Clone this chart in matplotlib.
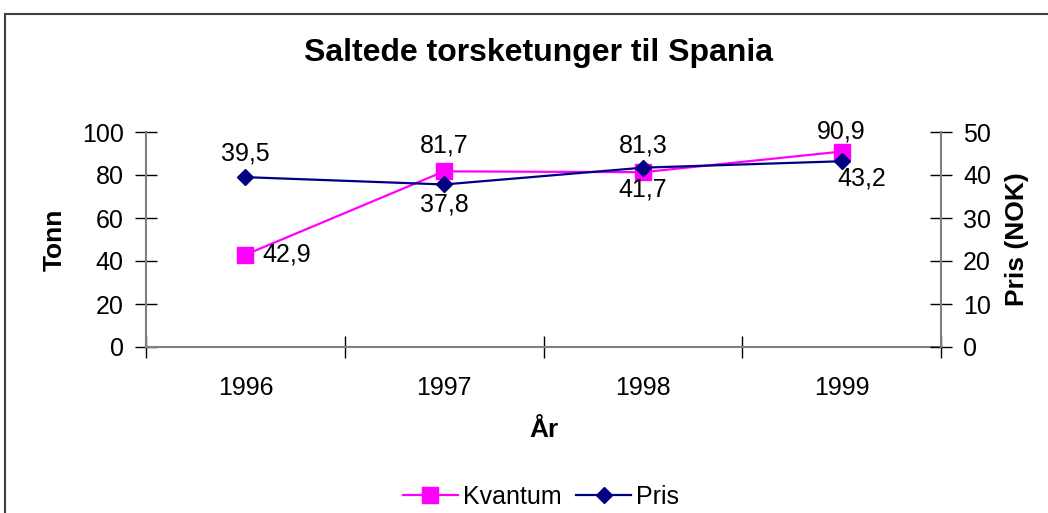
import matplotlib
matplotlib.use("Agg")
import matplotlib.pyplot as plt
from matplotlib.patches import Rectangle
import numpy as np

# data
years = ["1996", "1997", "1998", "1999"]
kvantum = [42.9, 81.7, 81.3, 90.9]   # Tonn, left axis
pris = [39.5, 37.8, 41.7, 43.2]      # NOK, right axis

PX = 0.72  # pixels -> points at 100 dpi

# label offsets in pixels (placement only)
kv_offsets = [(17, 0, "left"), (0, 26, "center"), (0, 27, "center"), (0, 20, "center")]
pr_offsets = [(0, 24, "center"), (0, -20, "center"), (0, -22, "center"), (20, -17, "center")]

plt.rcParams["font.family"] = ["Liberation Sans", "DejaVu Sans"]

fig = plt.figure(figsize=(10.48, 5.13), dpi=100)
W, H = 1048, 513
ax = fig.add_axes([146 / W, 1 - 347 / H, (941 - 146) / W, (347 - 132) / H])
ax2 = ax.twinx()

x = np.arange(len(years))
l1, = ax.plot(x, kvantum, color="#FF00FF", lw=1.6, marker="s", ms=11.5,
              label="Kvantum", zorder=3)
l2, = ax2.plot(x, pris, color="#000080", lw=1.6, marker="D", ms=8.5,
               label="Pris", zorder=3)

for xi, v, (dx, dy, ha) in zip(x, kvantum, kv_offsets):
    ax.annotate(f"{v:.1f}".replace(".", ","), (xi, v), xytext=(dx * PX, dy * PX),
                textcoords="offset points", ha=ha, va="center", fontsize=18)
for xi, v, (dx, dy, ha) in zip(x, pris, pr_offsets):
    ax2.annotate(f"{v:.1f}".replace(".", ","), (xi, v), xytext=(dx * PX, dy * PX),
                 textcoords="offset points", ha=ha, va="center", fontsize=18)

ax.set_xlim(-0.5, len(years) - 0.5)
ax.set_ylim(0, 100)
ax2.set_ylim(0, 50)
ax.set_yticks(np.arange(0, 101, 20))
ax2.set_yticks(np.arange(0, 51, 10))
ax.set_xticks(np.arange(-0.5, len(years), 1.0))
ax.set_xticklabels([])
ax.set_xticks(x, minor=True)
ax.set_xticklabels(years, minor=True)
ax.tick_params(axis="x", which="minor", length=0, pad=21, labelsize=18)
ax.tick_params(axis="x", which="major", direction="inout", length=16, width=1)
ax.tick_params(axis="y", direction="inout", length=16, width=1, labelsize=18, pad=8)
ax2.tick_params(axis="y", direction="inout", length=16, width=1, labelsize=18, pad=8)

for a in (ax, ax2):
    a.spines["top"].set_visible(False)
    for s in ("left", "right", "bottom"):
        a.spines[s].set_color("#808080")
        a.spines[s].set_linewidth(1.5)
ax.spines["right"].set_visible(False)
ax2.spines["left"].set_visible(False)
ax2.spines["bottom"].set_visible(False)

ax.set_ylabel("Tonn", fontsize=19, fontweight="bold", va="center", ha="center")
ax.yaxis.set_label_coords(-0.1145, 0.5)
ax2.set_ylabel("Pris (NOK)", fontsize=19, fontweight="bold", va="center", ha="center")
ax2.yaxis.set_label_coords(1.0956, 0.5)
ax.set_xlabel("År", fontsize=19, fontweight="bold", va="center")
ax.xaxis.set_label_coords(0.5, -83 / 215)

fig.text(538 / W, 1 - 53 / H, "Saltede torsketunger til Spania",
         ha="center", va="center", fontsize=23, fontweight="bold")

fig.legend([l1, l2], ["Kvantum", "Pris"], loc="center",
           bbox_to_anchor=(541 / W, 1 - 497 / H), ncol=2, frameon=False,
           fontsize=18, handlelength=2.2, handletextpad=0.2, columnspacing=0.6,
           borderpad=0)

fig.patches.append(Rectangle((5 / W, -0.05), 1.1, 1 - 14 / H + 0.05,
                             transform=fig.transFigure, fill=False,
                             edgecolor="#404040", lw=1.5))

fig.savefig("out.png", dpi=100)
